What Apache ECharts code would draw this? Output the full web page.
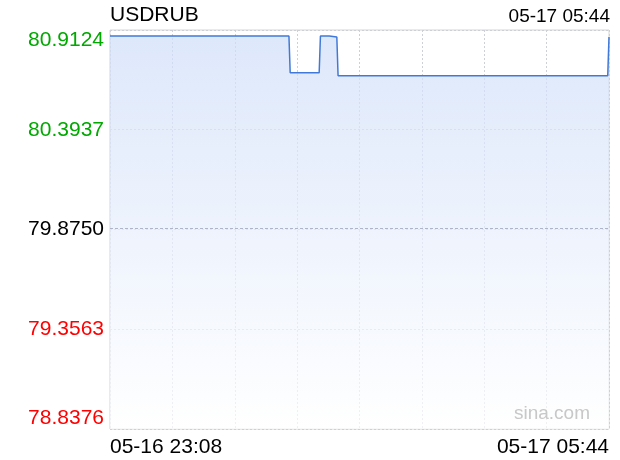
<!DOCTYPE html>
<html>
<head>
<meta charset="utf-8">
<script src="https://cdn.jsdelivr.net/npm/echarts@6/dist/echarts.min.js"></script>
<style>html,body{margin:0;padding:0;background:#fff}#c{width:620px;height:460px}</style>
</head>
<body>
<div id="c"></div>
<script>
var symbolName = 'USDRUB';
var stampText = '05-17 05:44';
var startLabel = '05-16 23:08';
var endLabel = '05-17 05:44';
var times = ['23:08','01:30','01:31','01:54','01:55','02:02','02:03','02:08','02:09','05:43','05:44'];
var prices = [80.881,80.881,80.690,80.690,80.881,80.881,80.876,80.876,80.675,80.675,80.876];
var yTicks = [78.8376, 79.3563, 79.8750, 80.3937, 80.9124];
var prevClose = 79.8750;

function toMin(t){var p=t.split(':');var m=(+p[0])*60+(+p[1]);var s=23*60+8;var d=m-s;if(d<0)d+=1440;return d;}
var totalMin = toMin('05:44');
var data = times.map(function(t,i){return [toMin(t), prices[i]];});
var yStep = yTicks[1]-yTicks[0];

var chart = echarts.init(document.getElementById('c'), null, {renderer:'canvas'});
var FONT = 'Liberation Sans, Arial, sans-serif';
chart.setOption({
  animation:false,
  backgroundColor:'#fff',
  title:[
    {text:symbolName,left:110,top:5,padding:0,textStyle:{fontFamily:FONT,fontSize:21,fontWeight:'normal',color:'#000'}},
    {text:stampText,right:10,top:7,padding:0,textStyle:{fontFamily:FONT,fontSize:19,fontWeight:'normal',color:'#000'}}
  ],
  grid:{left:110,right:11,top:30,bottom:31,show:true,borderColor:'#d4d4d4',borderWidth:1,containLabel:false},
  xAxis:{type:'value',min:0,max:totalMin,interval:totalMin/8,
    axisLine:{show:false},axisTick:{show:false},
    splitLine:{show:true,lineStyle:{color:'#cfcfd8',type:[2,2],width:1}},
    axisLabel:{show:true,margin:8,fontFamily:FONT,fontSize:21,color:'#000',
      alignMinLabel:'left',alignMaxLabel:'right',showMinLabel:true,showMaxLabel:true,
      formatter:function(v){if(Math.abs(v)<1e-6)return startLabel;if(Math.abs(v-totalMin)<1e-6)return endLabel;return '';}}
  },
  yAxis:{type:'value',min:yTicks[0],max:yTicks[4],interval:yStep,
    axisLine:{show:false},axisTick:{show:false},
    splitLine:{show:true,lineStyle:{color:'#cfcfd8',type:[2,2],width:1}},
    axisLabel:{show:true,margin:6,fontFamily:FONT,fontSize:21,
      verticalAlignMinLabel:'bottom',verticalAlignMaxLabel:'top',
      formatter:function(v){var s=v.toFixed(4);if(v>prevClose+1e-6)return '{g|'+s+'}';if(v<prevClose-1e-6)return '{r|'+s+'}';return '{k|'+s+'}';},
      rich:{g:{color:'#00a800',fontSize:21,fontFamily:FONT},r:{color:'#ff0000',fontSize:21,fontFamily:FONT},k:{color:'#000',fontSize:21,fontFamily:FONT}}
    }
  },
  graphic:[{type:'text',right:30,top:404,z:100,style:{text:'sina.com',fill:'#c8c8c8',font:'19px Liberation Sans, Arial, sans-serif'}}],
  series:[{
    type:'line',data:data,showSymbol:false,symbol:'none',
    lineStyle:{color:'#4079d8',width:1.5},
    areaStyle:{origin:'start',color:new echarts.graphic.LinearGradient(0,0,0,1,[{offset:0,color:'rgb(207,222,249)'},{offset:1,color:'rgb(255,255,255)'}])},
    markLine:{silent:true,symbol:'none',label:{show:false},
      lineStyle:{color:'#b0b4c8',type:[3,2],width:1},
      data:[{yAxis:prevClose}]}
  }]
});
</script>
</body>
</html>
